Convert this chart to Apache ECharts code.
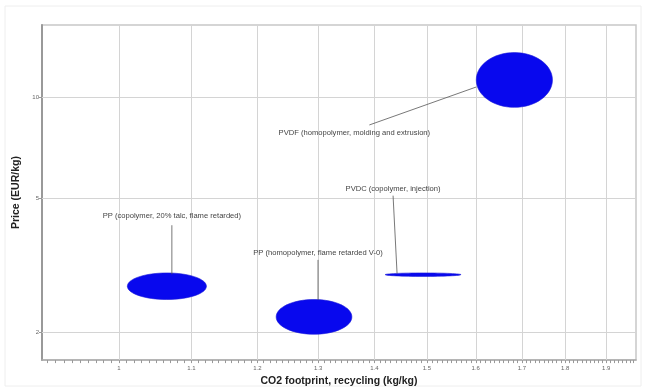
<!DOCTYPE html>
<html><head><meta charset="utf-8">
<script src="https://cdn.jsdelivr.net/npm/echarts@6/dist/echarts.min.js"></script>
<style>html,body{margin:0;padding:0;background:#fff}#c{width:646px;height:392px}</style>
</head><body><div id="c"></div>
<script>
// Materials (ranges: CO2 footprint recycling kg/kg, price EUR/kg)
var names = [
  'PP (copolymer, 20% talc, flame retarded)',
  'PP (homopolymer, flame retarded V-0)',
  'PVDC (copolymer, injection)',
  'PVDF (homopolymer, molding and extrusion)'
];
var co2Min = [1.011, 1.230, 1.420, 1.601];
var co2Max = [1.122, 1.359, 1.569, 1.770];
var priceMin = [2.50, 1.97, 2.93, 9.34];
var priceMax = [3.00, 2.50, 3.00, 13.6];

var xTickLabels = [1, 1.1, 1.2, 1.3, 1.4, 1.5, 1.6, 1.7, 1.8, 1.9];
var yTickLabels = [2, 5, 10];

// label layout (pixel offsets relative to ellipse centre): text dx,dy ; line start, line end
var labelLayout = [
  {tx: 5, ty: -70, l1: [5, -61], l2: [5, -12]},
  {tx: 4, ty: -64, l1: [4, -57], l2: [4, -17]},
  {tx: -30, ty: -86, l1: [-30, -79], l2: [-26, -1]},
  {tx: -160, ty: 53, l1: [-145, 45], l2: [-38, 7]}
];

var minorX = [];
for (var i = 91; i <= 197; i++) minorX.push(i / 100);

var data = names.map(function (n, k) { return [co2Min[k], co2Max[k], priceMin[k], priceMax[k], k]; });

var FONT = 'Liberation Sans';
var chart = echarts.init(document.getElementById('c'));
chart.setOption({
  backgroundColor: '#fff',
  animation: false,
  graphic: [{type: 'rect', shape: {x: 5, y: 6, width: 636, height: 380}, style: {fill: 'none', stroke: '#eeeeee', lineWidth: 1}, silent: true, z: -10}],
  grid: {left: 42, right: 10, top: 25, bottom: 27, show: true, borderColor: '#c8c8c8', borderWidth: 1.5},
  xAxis: {
    type: 'log', logBase: 10, min: 0.9035, max: 1.976,
    name: 'CO2 footprint, recycling (kg/kg)', nameLocation: 'middle', nameGap: 12,
    nameTextStyle: {fontFamily: FONT, fontWeight: 'bold', fontSize: 10.5, color: '#222'},
    axisLine: {lineStyle: {color: '#aaa', width: 1.5}},
    axisTick: {customValues: minorX, length: 3, lineStyle: {color: '#999'}},
    axisLabel: {customValues: xTickLabels, fontFamily: FONT, fontSize: 6, color: '#666', margin: 5,
      formatter: function (v) { return String(Math.round(v * 10) / 10); }},
    splitLine: {show: false}
  },
  yAxis: {
    type: 'log', logBase: 10, min: 1.65, max: 16.43,
    name: 'Price (EUR/kg)', nameLocation: 'middle', nameGap: 12,
    nameTextStyle: {fontFamily: FONT, fontWeight: 'bold', fontSize: 10.5, color: '#222'},
    axisLine: {lineStyle: {color: '#999', width: 2}},
    axisTick: {customValues: yTickLabels, length: 3, lineStyle: {color: '#999'}},
    axisLabel: {customValues: yTickLabels, fontFamily: FONT, fontSize: 6, color: '#666', margin: 3},
    splitLine: {show: false}
  },
  series: [{
    type: 'custom',
    encode: {x: [0, 1], y: [2, 3]},
    data: data,
    z: 5,
    renderItem: function (params, api) {
      var k = api.value(4);
      var p1 = api.coord([api.value(0), api.value(3)]);
      var p2 = api.coord([api.value(1), api.value(2)]);
      var cx = (p1[0] + p2[0]) / 2, cy = (p1[1] + p2[1]) / 2;
      var rx = Math.abs(p2[0] - p1[0]) / 2, ry = Math.max(Math.abs(p2[1] - p1[1]) / 2, 1.6);
      var L = labelLayout[k];
      return {type: 'group', children: [
        {type: 'ellipse', shape: {cx: cx, cy: cy, rx: rx, ry: ry}, style: {fill: '#0808ee', stroke: '#1a1ad8', lineWidth: 0.6}},
        {type: 'line', shape: {x1: cx + L.l1[0], y1: cy + L.l1[1], x2: cx + L.l2[0], y2: cy + L.l2[1]}, style: {stroke: '#555', lineWidth: 0.8}},
        {type: 'text', x: cx + L.tx, y: cy + L.ty, style: {text: names[k], fontFamily: FONT, fontSize: 7.6, fill: '#444', align: 'center', verticalAlign: 'middle'}}
      ]};
    }
  }, {
    type: 'line', data: [], silent: true,
    markLine: {
      silent: true, symbol: 'none', label: {show: false},
      lineStyle: {color: '#d4d4d4', width: 1, type: 'solid'},
      data: xTickLabels.map(function (v) { return {xAxis: v}; }).concat(yTickLabels.map(function (v) { return {yAxis: v}; }))
    }
  }]
});
</script></body></html>
